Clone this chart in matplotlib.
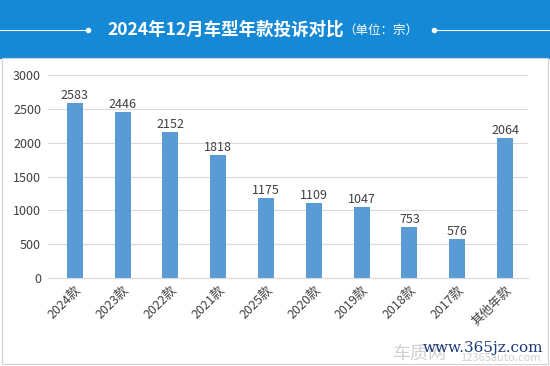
import matplotlib.pyplot as plt
from matplotlib.patches import Rectangle
from matplotlib.lines import Line2D

plt.rcParams['font.family'] = ['Noto Sans CJK SC', 'DejaVu Sans']

years = ['2024款', '2023款', '2022款', '2021款', '2025款',
         '2020款', '2019款', '2018款', '2017款', '其他年款']
complaints = [2583, 2446, 2152, 1818, 1175, 1109, 1047, 753, 576, 2064]
yticks = [0, 500, 1000, 1500, 2000, 2500, 3000]

W, H = 550, 366
fig = plt.figure(figsize=(5.5, 3.66), dpi=100)

# header band
fig.patches.append(Rectangle((0, 1 - 58 / H), 1, 58 / H, transform=fig.transFigure,
                             color='#1589d6', zorder=-5))
# panel border
fig.patches.append(Rectangle((2 / W, 2 / H), 546 / W, (H - 60) / H, transform=fig.transFigure,
                             facecolor='white', edgecolor='#d0d0d0', lw=0.8, zorder=-5))

ty = 1 - 30 / H
fig.lines.append(Line2D([0, 86 / W], [ty, ty], transform=fig.transFigure, color='white', lw=0.8))
fig.lines.append(Line2D([436 / W, 1], [ty, ty], transform=fig.transFigure, color='white', lw=0.8))
fig.lines.append(Line2D([88 / W, 434 / W], [ty, ty], transform=fig.transFigure, color='white',
                        lw=0, marker='o', markersize=3))
fig.text(107 / W, ty, '2024年12月车型年款投诉对比', color='white', fontsize=12.6,
         fontweight='bold', ha='left', va='center')
fig.text(343 / W, ty - 0.002, '（单位：宗）', color='white', fontsize=9,
         ha='left', va='center')

ax = fig.add_axes([48 / W, 1 - 278 / H, 480 / W, 203 / H], zorder=1)
ax.patch.set_alpha(0)
x = range(len(years))
ax.bar(x, complaints, width=0.335, color='#5b9bd5', zorder=2)
for xi, v in zip(x, complaints):
    ax.annotate(str(v), (xi, v), xytext=(0, 1), textcoords='offset points',
                ha='center', va='bottom', fontsize=9, color='#404040')

ax.set_xlim(-0.56, 9.48)
ax.set_ylim(0, 3000)
ax.set_yticks(yticks)
ax.grid(axis='y', color='#d9d9d9', lw=0.8, zorder=0)
for s in ['top', 'right', 'left']:
    ax.spines[s].set_visible(False)
ax.spines['bottom'].set_color('#d9d9d9')
ax.tick_params(axis='both', length=0, labelsize=9, labelcolor='#404040')
ax.tick_params(axis='y', pad=5)
ax.set_xticks(list(x))
ax.set_xticklabels(years, rotation=45, ha='right', rotation_mode='anchor')
ax.tick_params(axis='x', pad=4)

# watermark
fig.text(393 / W, 1 - 363 / H, '车质网', color='#d0d0d0', fontsize=13, ha='left', va='bottom')
fig.text(460 / W, 1 - 363 / H, '12365auto.com', color='#d0d0d0', fontsize=8, ha='left', va='bottom')
fig.text(543 / W, 1 - 348 / H, 'www.365jz.com', color='#1c3a78', fontsize=11,
         family='DejaVu Serif', ha='right', va='center')

fig.savefig('out.png', dpi=100)
